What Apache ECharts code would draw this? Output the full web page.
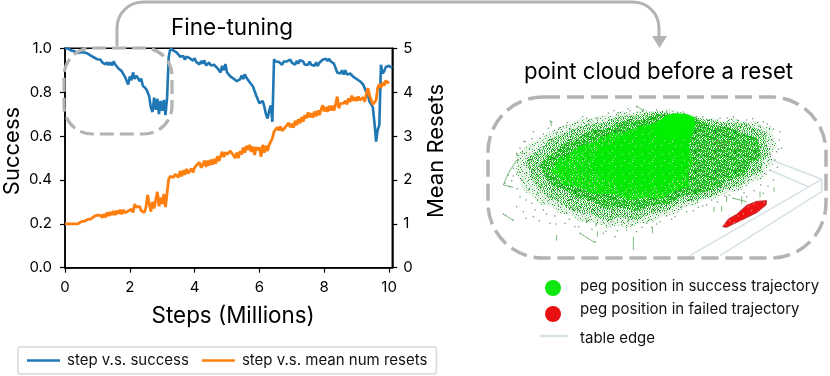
<!DOCTYPE html>
<html><head><meta charset="utf-8">
<style>html,body{margin:0;padding:0;background:#fff}#c{width:830px;height:376px}</style>
<script src="https://cdn.jsdelivr.net/npm/echarts@6/dist/echarts.min.js"></script>
</head><body><div id="c"></div>
<script>
const stepSize = 0.05; // millions of steps between samples
const success = [
1,1,.998,.996,.99,.988,.986,.98,.979,.98,
.982,.98,.981,.975,.976,.97,.966,.962,.958,.955,
.95,.945,.948,.936,.94,.926,.936,.924,.936,.922,
.94,.926,.924,.908,.908,.896,.888,.87,.865,.835,
.872,.855,.89,.86,.875,.865,.85,.862,.83,.838,
.815,.80,.78,.73,.71,.775,.72,.77,.70,.76,
.715,.765,.695,.775,.96,.998,.997,.99,.986,.98,
.975,.962,.958,.965,.948,.962,.968,.955,.957,.944,
.955,.938,.94,.926,.942,.93,.945,.922,.92,.935,
.922,.928,.925,.93,.91,.91,.89,.92,.9,.928,
.89,.89,.872,.878,.862,.868,.85,.856,.858,.876,
.86,.882,.866,.866,.845,.84,.826,.82,.785,.78,
.75,.745,.76,.735,.70,.68,.715,.74,.665,.95,
.94,.945,.938,.94,.925,.94,.935,.94,.933,.948,
.935,.94,.925,.942,.93,.946,.94,.94,.925,.93,
.925,.94,.925,.93,.92,.936,.92,.934,.934,.948,
.94,.952,.942,.952,.94,.944,.93,.924,.89,.89,
.885,.9,.88,.9,.88,.885,.885,.89,.87,.875,
.86,.865,.85,.855,.835,.83,.80,.785,.755,.745,
.73,.66,.575,.63,.65,.925,.885,.895,.915,.91,.92,.925,.91
];
const meanResets = [
1,1,1,1,1,1,1,1,1,1.01,
1.05,1.04,1.06,1.07,1.1,1.13,1.11,1.15,1.17,1.15,
1.2,1.16,1.19,1.14,1.22,1.15,1.26,1.18,1.27,1.2,
1.29,1.2,1.3,1.23,1.32,1.22,1.32,1.25,1.28,1.29,
1.28,1.33,1.26,1.45,1.38,1.35,1.4,1.3,1.34,1.26,
1.38,1.66,1.45,1.28,1.5,1.35,1.55,1.73,1.4,1.6,
1.45,1.68,1.38,1.4,2.02,2.08,2.11,2.06,2.13,2.14,
2.06,2.2,2.08,2.22,2.12,2.25,2.15,2.11,2.26,2.17,
2.28,2.33,2.32,2.4,2.28,2.34,2.44,2.3,2.44,2.33,
2.46,2.35,2.48,2.37,2.54,2.43,2.54,2.64,2.52,2.63,
2.58,2.6,2.66,2.7,2.56,2.5,2.62,2.5,2.66,2.58,
2.74,2.62,2.78,2.68,2.8,2.64,2.76,2.57,2.75,2.68,
2.74,2.53,2.8,2.62,2.78,2.66,2.8,2.84,2.95,3.1,
3.12,3.2,3.13,3.22,3.12,3.15,3.2,3.2,3.3,3.2,
3.28,3.19,3.35,3.25,3.38,3.29,3.43,3.33,3.48,3.4,
3.54,3.43,3.52,3.42,3.56,3.45,3.58,3.48,3.6,3.7,
3.56,3.66,3.55,3.69,3.58,3.69,3.58,3.72,3.9,3.63,
3.74,3.75,3.75,3.8,3.72,3.86,3.78,3.92,3.8,3.88,
3.8,3.9,3.82,3.85,3.88,3.78,3.97,4.09,3.92,3.82,
3.72,3.71,3.82,4.1,4.18,4.1,4.22,4.15,4.26,4.26,4.2
];
const xTicks = [0,2,4,6,8,10];
const cloudHalo = [[108,195],[128,178],[150,158],[178,150],[200,128],[232,118],[250,104],[282,100],[300,86],[335,88],[360,76],[395,78],[420,64],[455,70],[490,58],[525,66],[560,56],[600,66],[640,76],[672,92],[700,84],[735,95],[760,82],[795,98],[830,92],[852,112],[874,108],[880,140],[892,170],[872,192],[880,222],[858,238],[852,264],[815,276],[780,302],[742,306],[700,328],[672,326],[650,344],[615,352],[580,376],[548,378],[520,396],[480,400],[440,416],[410,406],[380,414],[340,396],[300,396],[270,372],[240,372],[208,346],[180,344],[155,316],[130,304],[122,272],[106,250]];
const cloudBody = [[135,215],[165,185],[185,178],[205,150],[250,130],[280,118],[320,102],[370,98],[420,78],[470,76],[530,64],[590,72],[640,80],[690,90],[720,96],[765,100],[800,100],[835,120],[862,125],[858,160],[870,190],[848,215],[842,245],[805,262],[780,288],[735,298],[700,318],[640,334],[600,340],[560,364],[510,372],[470,390],[420,382],[380,392],[330,372],[290,368],[240,340],[205,322],[175,298],[155,262]];
const cloudMid = [[178,225],[205,195],[230,185],[255,158],[290,148],[325,122],[375,118],[425,95],[480,90],[530,72],[600,76],[650,88],[700,108],[745,112],[790,130],[835,148],[842,205],[812,222],[795,255],[740,268],[720,290],[650,314],[610,316],[570,342],[520,345],[470,362],[420,350],[380,356],[330,330],[295,326],[250,298],[220,292],[195,260]];
const cloudCore = [[640,82],[600,72],[565,76],[525,100],[480,108],[430,128],[395,128],[335,158],[300,168],[255,200],[235,205],[212,245],[238,262],[250,285],[300,292],[340,312],[400,312],[450,330],[500,322],[545,326],[590,300],[632,290],[622,250],[640,220],[628,170],[635,140],[646,110]];
const cloudInner = [[642,84],[600,72],[565,76],[530,96],[480,118],[430,138],[400,160],[360,175],[330,205],[340,245],[380,275],[440,292],[500,298],[560,285],[600,268],[620,225],[628,170],[634,130],[646,108]];
const cloudKnob = [[642,82],[620,72],[590,70],[565,74],[535,92],[520,120],[560,150],[610,145],[632,128],[645,108]];
const cloudFailed = [[728,410],[745,387],[770,373],[800,346],[830,334],[860,332],[858,345],[830,368],[790,388],[760,402],[740,412]];
const fringePoints = [[215,95],[160,125],[135,155],[110,190],[120,175],[180,145],[205,115],[250,110],[285,100],[320,85],[350,85],[385,70],[415,68],[470,50],[490,60],[530,60],[560,65],[650,80],[680,88],[720,85],[760,80],[800,90],[850,95],[880,118],[900,125],[905,175],[890,185],[875,150],[75,280],[85,255],[100,235],[115,210],[90,290],[125,270],[140,250],[150,215],[165,190],[190,170],[120,320],[145,300],[175,310],[155,340],[75,375],[100,390],[130,365],[160,380],[210,400],[190,360],[235,345],[260,370],[255,400],[285,410],[320,395],[300,430],[345,455],[370,430],[405,440],[440,420],[470,425],[500,400],[540,395],[585,380],[620,365],[680,345],[695,330],[760,325],[800,320],[850,310],[880,270],[870,240],[885,210],[132,154],[148,230],[172,258],[112,196],[205,322],[225,378],[275,352],[310,372],[350,402],[392,395],[425,396],[455,405],[515,412],[560,378],[605,350],[655,352],[735,318],[822,302],[842,285],[872,192],[895,178],[840,108],[775,92],[610,66],[450,62],[330,94],[270,118],[228,128],[178,178],[142,205],[118,246],[95,272],[110,350],[138,385],[178,392],[70,372],[200,372],[228,402],[268,388],[296,410],[336,418],[378,424],[412,422],[486,412],[530,402],[575,388],[640,362],[668,348],[712,336],[748,316],[792,308],[864,288],[858,252],[892,232],[898,150],[862,102],[818,86],[742,84],[668,80],[444,56],[402,62],[308,80],[262,98],[238,114],[190,132],[156,146],[128,190],[132,226],[100,258],[112,296],[138,330],[165,360]];
const fringeStrokes = [[460,440,460,480],[230,435,230,452],[518,412,518,430],[740,318,740,336],[785,318,785,342],[882,292,882,305],[702,350,702,366],[725,348,725,364],[352,424,352,440],[445,380,445,396],[348,398,348,410],[320,386,320,400],[840,305,840,322],[70,285,85,250],[85,250,110,210],[70,285,100,292],[75,375,100,392],[210,90,215,108],[300,430,345,458],[760,325,800,335],[470,48,490,62]];
const tintPoints = [[705,160],[715,170],[725,158],[735,165],[745,155],[712,152],[728,172]];
const failedFringe = [[735,402],[750,392],[762,398],[775,378],[790,372],[805,350],[822,342],[840,330],[852,338],[748,378],[782,392],[815,362]];
const tableEdges = [[875,210,1025,268],[1025,268,1025,305],[870,240,985,290],[1025,268,630,497],[1025,305,720,497]];
// hand-drawn speckle swatches for the dense parts of the cloud
const speckleSparse = [
"..g.....d...l....g..",".......g.....m......","l..d.......l.....d..","....g...m......g....",".g.......l..d.......","......d.......g...l.","..l.......m.......g.","d.....g......l......","....l....d......m...",".g.......g..g.....d.",
"......l.......d.....","..d.........m....l..","g.....g..l.......g..","....d........g......",".l.......m......d...","......g.....l.....g.","..m.l.....d.........","........g......g..l.","d....g.......l......","...l.....g.d.....m.."];
const speckleMedium = [
"g.l.g..d.g.m.g..l.g.",".m.g.g.l...g.d.g..m.","g..d.m.g.g..l.g.g...",".g.l..g..d.g.m..d.g.","l.g.g.m.g...g.g.l..g",".d...g.l.g.m.d..g.m.","g.m.d.g...g.g.l.g..g",".g.g..l.g.d..m.g.d..","m..g.g.d..l.g.g..g.l",".l.m...g.g.m.d.g.m..",
"g.g.d.g.l..g.g.l.g.d","..m.g..g.m.d..g..m.g","d.g.l.m..g.g.l.d.g..",".g...g.d.l..g.m.g.l.","g.m.g..g.g.d..g..d.g",".l.d.l.m...g.l.g.m..","g.g..g.d.m.g.g..g.g.",".m.g.l..g.g.d.m.l..d","g..d.g.m..l.g.g.d.g.",".g.m..g.g.d.m..g..l."];
const speckleDense = [
"gg.gdg.ggl.g.gg.dg.g",".gg.g.gg.gdg.g.ggl.g","g.dgg.g.gg.ggl.g.ggd","gg.g.lgg.d.gg.g.gg.g",".gdg.gg.g.gg.gdg.g.g","g.g.gg.dgg.g.g.lgg.g","gl.gg.g.g.ggd.g.gg.d",".gg.dg.gg.g.gg.g.gg.","g.ggg.l.gdg.g.gg.dg.","dg.g.gg.g.gg.lg.g.gg",
".g.gd.gg.g.dgg.gg.g.","gg.g.gg.lg.g.g.dg.gg","g.dgg.g.g.gg.gg.g.l.",".gg.g.ggd.g.g.gdg.gg","lg.gg.d.gg.gg.g.g.g.","g.g.dgg.g.l.gg.gg.dg",".gg.g.g.ggdg.g.g.gg.","gd.gg.gl.g.g.ggd.g.g","g.gg.g.gg.gg.d.gg.gl",".g.dg.gg.d.g.gg.g.g."];
const speckleCore = [
"GG.GlGGGgGG.GGgGGlGG","GGlGG.GgGGGG.GGGGlGG","GgGGGGGGl.GGGgGG.GGG",".GGG.GGGGlGGG.gGGGGl","GGlGGGgGG.GGGGGGG.GG","GlGG.GgGGGG.GGlGGGgG","GGGGGlGG.GGGgGGlGGGG","GGG.GGgGGlGGGG.GGGgG","gGGGG.GGGGGlGgGG.GGG","GGgGGGlG.GGGGGlG.GGG",
"GGG.GGGgG.GGgGGGlGGG","G.GGGlGGGGG.lGGG.GGG","GGlGGgGG.GGGGGGGgGGG","GGGG.GGGGlGG..GGGGlG","GGlGGGgGG.GGG.GGlGG.","G.GGGG.GGGlGgGGGG.GG","GGGlGGGgGGGG.GGlGGGG","GgGGGlGG.G.GGGgGGGlG","GG.GGGGgGGlGGG.GgGGG","GGG.GlGGgGGG.GlGGGGG"];
const speckleInner = [
"GGGGlGGGGGGGGgGGGGGG","GGGGGGGgGGGG.GGGGGGG","GgGGGGGGGGGGGGGGGGGG","GGGGGGGGGlGGGGgGGGGG","GGGGGGGGGGGGGGGGG.GG","GlGGGGgGGGGGGGGGGGGG","GGGGGGGGGGGGGGGlGGGG","GGG.GGGGGGGGGGGGGGgG","GGGGGGGGGGGGGgGGGGGG","GGgGGGGGGGGGGGGG.GGG",
"GGGGGGGGG.GGGGGGGGGG","GGGGGGGGGGGGlGGGGGGG","GGGGGgGGGGGGGGGGgGGG","GGGGGGGGGlGGGGGGGGGG","GGlGGGGGGGGGGGGGGGGG","GGGGGG.GGGGGgGGGGGGG","GGGGGGGGGGGGGGGlGGGG","GgGGGGGGGG.GGGGGGGGG","GGGGGGGGGGGGGGGGgGGG","GGGGGGGGgGGGGlGGGGGG"];
const speckleColors = {g:'#1cc81c',d:'#1e7a2e',l:'#a8dca8',m:'#7fae85',G:'#04ec04'};
function swatch(rows){
  const cv=document.createElement('canvas');cv.width=rows[0].length;cv.height=rows.length;
  const ctx=cv.getContext('2d');
  rows.forEach((r,y)=>[...r].forEach((ch,x)=>{if(speckleColors[ch]){ctx.fillStyle=speckleColors[ch];ctx.fillRect(x,y,1,1);}}));
  return {image:cv,repeat:'repeat'};
}
function polySeries(points,fill,z,stroke){
  return {type:'custom',xAxisIndex:1,yAxisIndex:2,z:z,silent:true,clip:false,
    data:points,encode:{x:0,y:1},
    renderItem:(p,api)=>{ if(p.dataIndex!==0) return null;
      return {type:'polygon',shape:{points:points.map(q=>api.coord(q))},style:{fill:fill,stroke:stroke||null,lineWidth:stroke?1:0}};}};
}
function segSeries(segs,color,width,z){
  return {type:'custom',xAxisIndex:1,yAxisIndex:2,z:z,silent:true,clip:false,data:segs,
    encode:{x:[0,2],y:[1,3]},
    renderItem:(p,api)=>{const a=api.coord([api.value(0),api.value(1)]),b=api.coord([api.value(2),api.value(3)]);
      return {type:'line',shape:{x1:a[0],y1:a[1],x2:b[0],y2:b[1]},style:{stroke:color,lineWidth:width,fill:null}};}};
}
function dots(points,color,size,z){
  return {type:'scatter',xAxisIndex:1,yAxisIndex:2,z:z,silent:true,symbolSize:size,itemStyle:{color:color},data:points};
}
const font='Inter';
const black='#000';
const gray='#b3b3b3';
const chart=echarts.init(document.getElementById('c'),null,{renderer:'canvas'});
const axisCommon={axisLine:{show:true,onZero:false,lineStyle:{color:black,width:1.5}},axisTick:{show:true,length:5,lineStyle:{color:black,width:1.2}},splitLine:{show:false}};
chart.setOption({
  animation:false,textStyle:{fontFamily:font},
  legend:{data:['step v.s. success','step v.s. mean num resets'],left:18,top:347,orient:'horizontal',icon:'rect',itemWidth:33,itemHeight:2.5,itemGap:13,
    textStyle:{fontFamily:font,fontSize:15,color:'#111',padding:[0,0,0,2]},borderColor:'#d8d8d8',borderWidth:1.5,borderRadius:2,padding:[6,9,6,9]},
  grid:[{left:64,top:48.3,width:328.3,height:219.4,show:true,borderColor:black,borderWidth:1.5,backgroundColor:'transparent'},
        {left:480,top:90,width:350,height:190}],
  xAxis:[
    Object.assign({},axisCommon,{type:'value',gridIndex:0,min:0,max:10.1,name:'Steps (Millions)',nameLocation:'middle',nameGap:38,
      nameTextStyle:{fontFamily:font,fontSize:22.4,color:black,padding:[0,0,0,9]},
      axisTick:{show:true,length:5,customValues:xTicks,lineStyle:{color:black,width:1.2}},
      axisLabel:{customValues:xTicks,fontFamily:font,fontSize:15,color:black,margin:12}}),
    {type:'value',gridIndex:1,min:0,max:1050,show:false}
  ],
  yAxis:[
    Object.assign({},axisCommon,{type:'value',gridIndex:0,min:0,max:1,interval:.2,name:'Success',nameLocation:'middle',nameGap:42,
      nameTextStyle:{fontFamily:font,fontSize:22,color:black,padding:[0,0,0,14]},
      axisLabel:{fontFamily:font,fontSize:15,color:black,margin:13,formatter:v=>v.toFixed(1)}}),
    Object.assign({},axisCommon,{type:'value',gridIndex:0,position:'right',min:0,max:5,interval:1,name:'Mean Resets',nameLocation:'middle',nameGap:33,nameRotate:90,
      nameTextStyle:{fontFamily:font,fontSize:22,color:black,padding:[0,0,0,14]},
      axisLabel:{fontFamily:font,fontSize:15,color:black,margin:11}}),
    {type:'value',gridIndex:1,min:0,max:570,inverse:true,show:false}
  ],
  series:[
    {name:'step v.s. success',type:'line',xAxisIndex:0,yAxisIndex:0,showSymbol:false,z:3,itemStyle:{color:'#1f77b4'},lineStyle:{color:'#1f77b4',width:2.6},
      data:success.map((v,i)=>[i*stepSize,v])},
    {name:'step v.s. mean num resets',type:'line',xAxisIndex:0,yAxisIndex:1,showSymbol:false,z:4,itemStyle:{color:'#ff7f0e'},lineStyle:{color:'#ff7f0e',width:2.8},
      data:meanResets.map((v,i)=>[i*stepSize,v])},
    segSeries(tableEdges,'#d6e2e6',1.6,2),
    polySeries(cloudHalo,'rgba(150,205,150,.18)',3),
    polySeries(cloudHalo,swatch(speckleSparse),3),
    polySeries(cloudBody,swatch(speckleMedium),4),
    polySeries(cloudMid,swatch(speckleDense),4),
    polySeries(cloudCore,swatch(speckleCore),5),
    polySeries(cloudInner,swatch(speckleInner),5),
    polySeries(cloudKnob,'#00f000',6),
    polySeries(cloudFailed,'#ee1111',6,'#b83a3a'),
    segSeries(fringeStrokes,'#5aa85a',.8,3),
    dots(fringePoints,'#3d7d4d',1.5,3),
    dots(tintPoints,'#a65a2a',1.5,7),
    dots(failedFringe,'#f4a0a0',1.5,7)
  ],
  graphic:[
    {type:'line',z:20,silent:true,shape:{x1:117,y1:46,x2:117,y2:28},style:{stroke:gray,lineWidth:3}},
    {type:'arc',z:20,silent:true,shape:{cx:143,cy:28,r:26,startAngle:Math.PI,endAngle:Math.PI*1.5},style:{stroke:gray,fill:null,lineWidth:3}},
    {type:'line',z:20,silent:true,shape:{x1:143,y1:2,x2:633,y2:2},style:{stroke:gray,lineWidth:3}},
    {type:'arc',z:20,silent:true,shape:{cx:633,cy:28,r:26,startAngle:-Math.PI/2,endAngle:0},style:{stroke:gray,fill:null,lineWidth:3}},
    {type:'line',z:20,silent:true,shape:{x1:659,y1:28,x2:659,y2:38},style:{stroke:gray,lineWidth:3}},
    {type:'polygon',z:20,silent:true,shape:{points:[[652,36],[667,36],[659.5,48]]},style:{fill:gray}},
    {type:'rect',z:20,silent:true,shape:{x:64,y:48,width:108,height:86,r:28},style:{stroke:gray,fill:null,lineWidth:3.2,lineDash:[14,6]}},
    {type:'rect',z:20,silent:true,shape:{x:488,y:97,width:338,height:161,r:55},style:{stroke:gray,fill:null,lineWidth:3.5,lineDash:[17,7]}},
    {type:'text',z:20,silent:true,style:{x:232,y:28,text:'Fine-tuning',fontFamily:font,fontSize:22.5,fill:black,align:'center',verticalAlign:'middle'}},
    {type:'text',z:20,silent:true,style:{x:658.5,y:72,text:'point cloud before a reset',fontFamily:font,fontSize:22.2,fill:black,align:'center',verticalAlign:'middle'}},
    {type:'circle',z:20,silent:true,shape:{cx:553,cy:288,r:8},style:{fill:'#10e610'}},
    {type:'circle',z:20,silent:true,shape:{cx:553,cy:314,r:8},style:{fill:'#e81010'}},
    {type:'line',z:20,silent:true,shape:{x1:540,y1:336,x2:568,y2:336},style:{stroke:'#d6e2e6',lineWidth:2.5}},
    {type:'text',z:20,silent:true,style:{x:580,y:286,text:'peg position in success trajectory',fontFamily:font,fontSize:15,fill:'#111',verticalAlign:'middle'}},
    {type:'text',z:20,silent:true,style:{x:580,y:309,text:'peg position in failed trajectory',fontFamily:font,fontSize:15,fill:'#111',verticalAlign:'middle'}},
    {type:'text',z:20,silent:true,style:{x:580,y:338,text:'table edge',fontFamily:font,fontSize:15,fill:'#111',verticalAlign:'middle'}}
  ]
});
</script></body></html>
